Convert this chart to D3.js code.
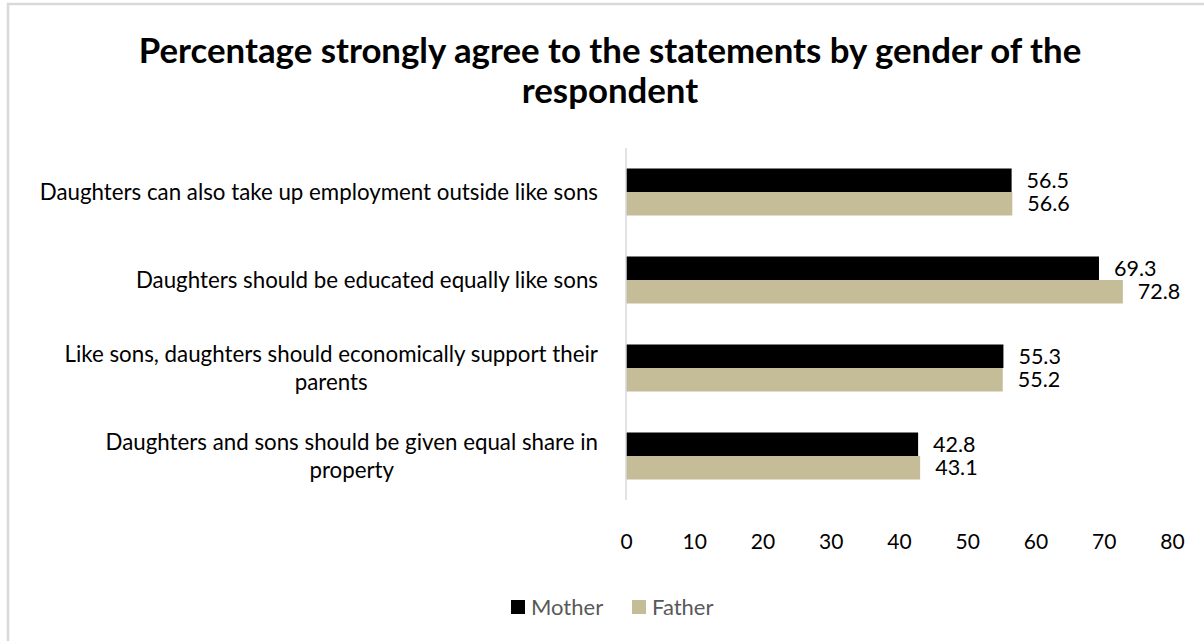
<!DOCTYPE html>
<html>
<head>
<meta charset="utf-8">
<script src="https://cdn.jsdelivr.net/npm/d3@7"></script>
<style>
  html, body { margin: 0; padding: 0; background: #ffffff; }
  svg { display: block; }
</style>
</head>
<body>
<script>
// Statements (top to bottom), wrapped the way they appear on the axis
const categories = [
  ["Daughters can also take up employment outside like sons"],
  ["Daughters should be educated equally like sons"],
  ["Like sons, daughters should economically support their", "parents"],
  ["Daughters and sons should be given equal share in", "property"]
];
const seriesNames = ["Mother", "Father"];
const motherValues = [56.5, 69.3, 55.3, 42.8];
const fatherValues = [56.6, 72.8, 55.2, 43.1];
const xTicks = [0, 10, 20, 30, 40, 50, 60, 70, 80];
const titleLines = ["Percentage strongly agree to the statements by gender of the", "respondent"];

const W = 1204, H = 641;
const colors = { Mother: "#000000", Father: "#c4bd97" };
const font = "Lato, 'Open Sans', sans-serif";

const svg = d3.select("body").append("svg").attr("width", W).attr("height", H);

// chart frame
svg.append("rect")
  .attr("x", 8).attr("y", 4).attr("width", 1210).attr("height", 660)
  .attr("fill", "#ffffff").attr("stroke", "#d9d9d9").attr("stroke-width", 2.5);

// title
svg.append("g").selectAll("text").data(titleLines).join("text")
  .attr("x", 610).attr("y", (d, i) => 63 + i * 40)
  .attr("text-anchor", "middle")
  .attr("font-family", font).attr("font-weight", "bold").attr("font-size", 34.8)
  .attr("fill", "#000")
  .text(d => d);

const plot = { left: 626, right: 1172, top: 148, bottom: 500 };

const x = d3.scaleLinear().domain([0, 80]).range([plot.left, plot.right]);
const y = d3.scaleBand().domain(d3.range(categories.length))
  .range([plot.top, plot.bottom]).paddingInner(0.466).paddingOuter(0.233);
const ySub = d3.scaleBand().domain(seriesNames).range([0, y.bandwidth()]);

const rows = categories.map((c, i) => ({ i, Mother: motherValues[i], Father: fatherValues[i] }));

// bars
const groups = svg.append("g").selectAll("g").data(rows).join("g")
  .attr("transform", d => `translate(0,${y(d.i)})`);

groups.selectAll("rect").data(d => seriesNames.map(s => ({ s, v: d[s] }))).join("rect")
  .attr("x", x(0))
  .attr("y", d => ySub(d.s))
  .attr("width", d => x(d.v) - x(0))
  .attr("height", ySub.bandwidth())
  .attr("fill", d => colors[d.s]);

// value labels
groups.selectAll("text").data(d => seriesNames.map(s => ({ s, v: d[s] }))).join("text")
  .attr("x", d => x(d.v) + 15)
  .attr("y", d => ySub(d.s) + ySub.bandwidth() / 2)
  .attr("dy", "0.36em")
  .attr("font-family", font).attr("font-size", 21.5).attr("fill", "#000")
  .text(d => d.v.toFixed(1));

// vertical category axis line
svg.append("line")
  .attr("x1", x(0)).attr("x2", x(0))
  .attr("y1", plot.top).attr("y2", plot.bottom)
  .attr("stroke", "#d9d9d9").attr("stroke-width", 1.5);

// x axis tick labels
const xAxis = d3.axisBottom(x).tickValues(xTicks).tickSize(0).tickPadding(0).tickFormat(d3.format("d"));
const gx = svg.append("g").attr("transform", `translate(0,${plot.bottom + 34})`).call(xAxis);
gx.select(".domain").remove();
gx.selectAll("text").attr("font-family", font).attr("font-size", 21).attr("fill", "#000");

// category labels: each block right-aligned, lines centred within the block
const labelRight = 598;
const labelG = svg.append("g");
rows.forEach((r, i) => {
  const lines = categories[i];
  const cy = y(i) + y.bandwidth() / 2;
  const lh = 28;
  const tmp = lines.map((t, k) => labelG.append("text")
    .attr("font-family", font).attr("font-size", 22.3).attr("fill", "#000")
    .attr("text-anchor", "middle")
    .text(t));
  const maxW = d3.max(tmp, t => t.node().getComputedTextLength());
  const cx = labelRight - maxW / 2;
  tmp.forEach((t, k) => {
    t.attr("x", cx)
     .attr("y", cy + (k - (lines.length - 1) / 2) * lh)
     .attr("dy", "0.35em");
  });
});

// legend
const legend = svg.append("g").attr("transform", "translate(511,607)");
const legItems = [{ s: "Mother", x: 0 }, { s: "Father", x: 121 }];
legend.selectAll("rect").data(legItems).join("rect")
  .attr("x", d => d.x).attr("y", -7).attr("width", 14).attr("height", 14)
  .attr("fill", d => colors[d.s]);
legend.selectAll("text").data(legItems).join("text")
  .attr("x", d => d.x + 20).attr("y", 0).attr("dy", "0.36em")
  .attr("font-family", font).attr("font-size", 22).attr("fill", "#595959")
  .text(d => d.s);
</script>
</body>
</html>
